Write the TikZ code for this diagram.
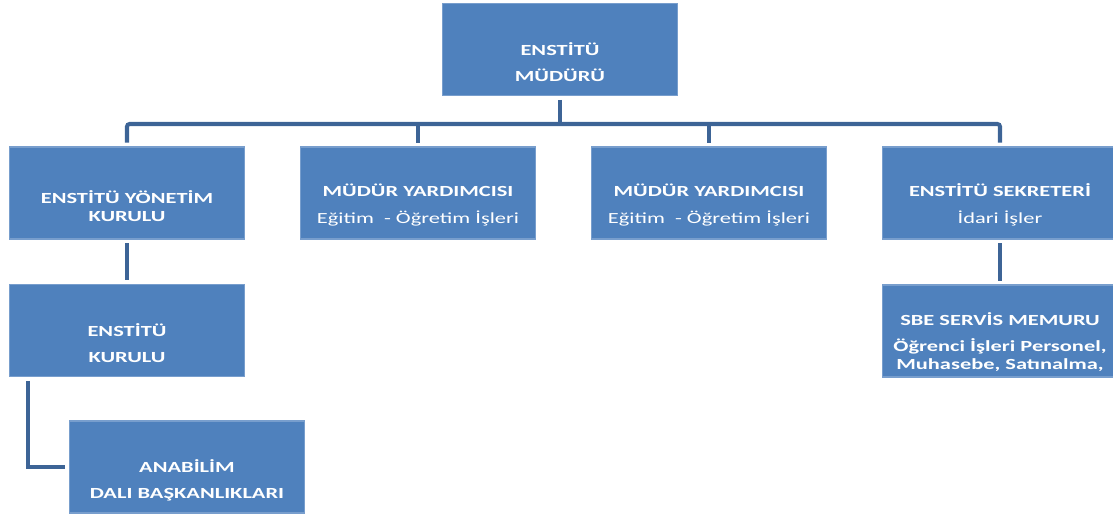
\documentclass[tikz,border=0pt]{standalone}
\usepackage{fontspec}
\setmainfont{Carlito}[FakeStretch=1.45]
\definecolor{boxblue}{RGB}{79,129,189}
\definecolor{boxedge}{RGB}{120,158,205}
\definecolor{lineblue}{RGB}{61,100,150}
\begin{document}
\begin{tikzpicture}[x=0.02cm,y=-0.02cm]
\useasboundingbox (0,0) rectangle (1113,515);
\clip (0,0) rectangle (1113,515);
\tikzstyle{box}=[fill=boxblue,draw=boxedge,line width=0.8pt,minimum width=4.7cm,minimum height=1.84cm,outer sep=2.5pt,inner sep=0pt]
\tikzstyle{lbl}=[text=white,align=center,inner sep=0pt,font=\bfseries\fontsize{8.8}{10}\selectfont]
\tikzstyle{conn}=[draw=lineblue,line width=2.3pt]

\path (560,49.5) node[box] (dir) {};
\path (127,193) node[box] (yk) {};
\path (418,193) node[box] (my1) {};
\path (709,193) node[box] (my2) {};
\path (1000,193) node[box] (sek) {};
\path (127,330.5) node[box] (ek) {};
\path (187,467) node[box] (abd) {};
\path (1000,331) node[box] (sbe) {};

\coordinate (bus) at (560,124);
\draw[conn] (dir) -- (bus);
\draw[conn,rounded corners=1.5pt] (yk.north) |- (bus) -| (sek.north);
\draw[conn] (my1.north) -- (my1.north |- bus);
\draw[conn] (my2.north) -- (my2.north |- bus);
\draw[conn] (yk) -- (ek);
\draw[conn] (sek) -- (sbe);
\draw[conn] (ek.south west) ++(23,0) |- (abd.west);

\path (560,62) node[lbl] (dirlbl) {ENSTİTÜ\\[5pt]MÜDÜRÜ};
\path (127,206) node[lbl] (yklbl) {ENSTİTÜ YÖNETİM\\KURULU};
\path (418,205) node[lbl] (my1lbl) {MÜDÜR YARDIMCISI\\[5pt]{\mdseries Eğitim~ - Öğretim İşleri}};
\path (709,205) node[lbl] (my2lbl) {MÜDÜR YARDIMCISI\\[5pt]{\mdseries Eğitim~ - Öğretim İşleri}};
\path (1000,205) node[lbl] (seklbl) {ENSTİTÜ SEKRETERİ\\[5pt]{\mdseries İdari İşler}};
\path (127,343) node[lbl] (eklbl) {ENSTİTÜ\\[5pt]KURULU};
\path (187,480) node[lbl] (abdlbl) {ANABİLİM\\[5pt]DALI BAŞKANLIKLARI};
\begin{scope}
\clip (883,285) rectangle (1117,377);
\path (1000,342) node[lbl] (sbelbl) {SBE SERVİS MEMURU\\[5pt]Öğrenci İşleri Personel,\\Muhasebe, Satınalma,};
\end{scope}
\end{tikzpicture}
\end{document}
